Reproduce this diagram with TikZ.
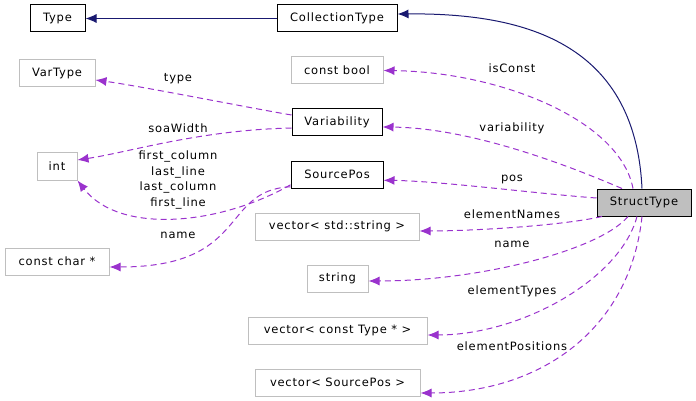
\documentclass[tikz,border=0pt]{standalone}
\usepackage{fontspec}
\setmainfont{DejaVu Sans}[LetterSpace=7]
\usepackage{xcolor}
\usepackage{tikz}
\usetikzlibrary{arrows.meta}
\definecolor{dxnavy}{HTML}{191970}
\definecolor{dxpurple}{HTML}{9A32CD}
\definecolor{dxgray}{HTML}{BFBFBF}

\begin{document}
\begin{tikzpicture}[x=1pt, y=-1pt, line width=1pt,
  every node/.style={font=\fontsize{11.5}{15.5}\selectfont, inner sep=0pt},
  cls/.style={draw=black, minimum height=27pt},
  ext/.style={draw=dxgray, minimum height=27pt},
  inherit/.style={dxnavy, -{Latex[length=11pt,width=9pt]}},
  uses/.style={dxpurple, dash pattern=on 6pt off 4pt, -{Latex[length=11pt,width=9pt]}},
  lbl/.style={fill=none}]
  \useasboundingbox (0,0) rectangle (696,401);

  % classes
  \node[cls, minimum width=55pt] (type) at (57.5,18.5) {Type};
  \node[cls, minimum width=120pt] (coll) at (337,18.5) {CollectionType};
  \node[ext, minimum width=92pt] (cbool) at (337,70.5) {const bool};
  \node[ext, minimum width=76pt] (vartype) at (57,73.5) {VarType};
  \node[cls, minimum width=90pt] (var) at (337,122.5) {Variability};
  \node[ext, minimum width=40pt] (int) at (57,166.5) {int};
  \node[cls, minimum width=92pt] (spos) at (337,174.8) {SourcePos};
  \node[ext, minimum width=164pt] (vstr) at (337,226.5) {vector< std::string >};
  \node[ext, minimum width=104pt] (cchar) at (57,261.5) {const char *};
  \node[ext, minimum width=61pt] (str) at (337.5,278.5) {string};
  \node[ext, minimum width=179pt] (vtype) at (337.5,330.5) {vector< const Type * >};
  \node[ext, minimum width=165pt] (vspos) at (337.5,382.5) {vector< SourcePos >};
  \node[cls, fill=dxgray, minimum width=94pt] (st) at (644,202.5) {StructType};

  % inheritance
  \draw[inherit] (coll) -- (type);
  \draw[inherit] ([xshift=-2pt]st.north) .. controls (635,40) and (520,13) .. ([yshift=4.5pt]coll.east);

  % members of StructType
  \draw[uses] ([xshift=-11pt]st.north) .. controls (620,120) and (500,72) .. (cbool.east);
  \draw[uses] ([xshift=-22pt]st.north) .. controls (590,175) and (480,128) .. ([yshift=-4.5pt]var.east);
  \draw[uses] ([yshift=4.5pt]st.west) .. controls (540,194) and (440,181) .. ([yshift=-5.5pt]spos.east);
  \draw[uses] ([xshift=-42pt]st.south) .. controls (560,226) and (470,231) .. ([yshift=-4.5pt]vstr.east);
  \draw[uses] ([xshift=-16pt]st.south) .. controls (600,250) and (480,281) .. ([yshift=-2.5pt]str.east);
  \draw[uses] ([xshift=-7pt]st.south) .. controls (620,280) and (520,335) .. ([yshift=-4.5pt]vtype.east);
  \draw[uses] ([xshift=-2pt]st.south) .. controls (630,330) and (540,393) .. ([yshift=-10.5pt]vspos.east);

  % members of Variability and SourcePos
  \draw[uses] ([yshift=7.5pt]var.west) .. controls (250,108) and (140,86) .. ([yshift=-6.5pt]vartype.east);
  \draw[uses] ([yshift=-5.5pt]var.west) .. controls (200,130) and (130,152) .. ([yshift=6.5pt]int.east);
  \draw[uses] ([yshift=-10pt]spos.west) .. controls (220,225) and (120,235) .. (int.south east);
  \draw[uses] ([yshift=-12pt]spos.west) .. controls (220,190) and (250,267) .. ([yshift=-5.5pt]cchar.east);

  % labels
  \node[lbl] (l-isconst) at (512,68) {isConst};
  \node[lbl] (l-var) at (512,128) {variability};
  \node[lbl] (l-pos) at (512,179) {pos};
  \node[lbl] (l-enames) at (512,214) {elementNames};
  \node[lbl] (l-name) at (512,244) {name};
  \node[lbl] (l-etypes) at (512,291) {elementTypes};
  \node[lbl] (l-epos) at (512,346) {elementPositions};
  \node[lbl] (l-type) at (178,79) {type};
  \node[lbl] (l-soa) at (178,128) {soaWidth};
  \node[lbl, align=center] (l-lines) at (178,180) {first\_column\\last\_line\\last\_column\\first\_line};
  \node[lbl] (l-cname) at (178,235) {name};
\end{tikzpicture}
\end{document}
